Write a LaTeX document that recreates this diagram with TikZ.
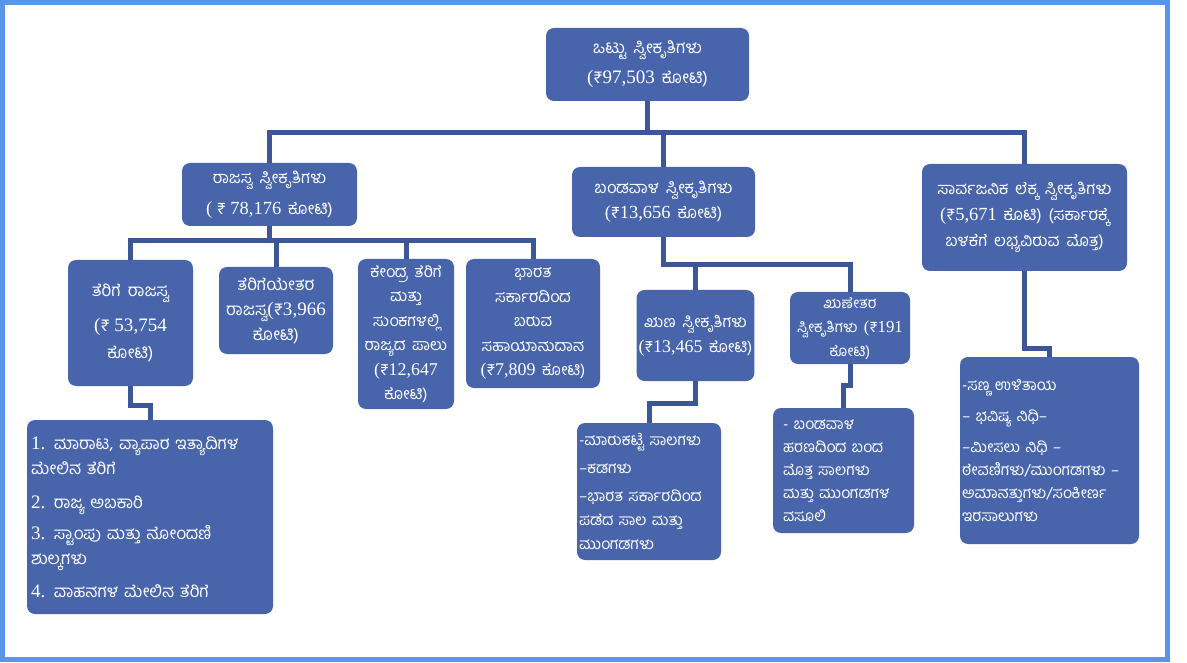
\documentclass[tikz,border=0pt]{standalone}
\usepackage{fontspec}
\setmainfont{Liberation Serif}[Scale=1.12]
\newfontfamily\kn[Script=Kannada,WordSpace=1.7]{Hind Mysuru}
\newcommand\nm[1]{{\rmfamily #1}}
\newcommand\rs{{\kn ₹}}
\definecolor{boxblue}{RGB}{72,101,172}
\definecolor{linkblue}{RGB}{60,86,150}
\definecolor{framblue}{RGB}{88,150,235}
\tikzset{
  bx/.style={fill=boxblue, rounded corners=8pt, text=white, inner sep=2pt, align=center, font=\kn\fontsize{15}{24}\selectfont},
  lnk/.style={draw=linkblue, line width=5pt}
}
\begin{document}
\begin{tikzpicture}[x=1pt,y=-1pt]
\useasboundingbox (0,0) rectangle (1187,663);
\fill[white] (0,0) rectangle (1187,663);
\draw[framblue, line width=5pt] (2.5,2.5) rectangle (1167.5,659.5);

% level 0
\node[bx, minimum width=203pt, minimum height=73pt, font=\kn\fontsize{17}{30}\selectfont] (top) at (647.5,64.5) {ಒಟ್ಟು ಸ್ವೀಕೃತಿಗಳು\\\nm{(}\rs\nm{97,503} ಕೋಟಿ)};
% level 1
\node[bx, minimum width=175pt, minimum height=63pt, font=\kn\fontsize{16.5}{31}\selectfont] (rev) at (269.5,194.5) {ರಾಜಸ್ವ ಸ್ವೀಕೃತಿಗಳು\\\nm{( }\rs\nm{ 78,176} ಕೋಟಿ)};
\node[bx, minimum width=183pt, minimum height=70pt, font=\kn\fontsize{16.5}{25}\selectfont] (cap) at (663.5,202) {ಬಂಡವಾಳ ಸ್ವೀಕೃತಿಗಳು\\\nm{(}\rs\nm{13,656} ಕೋಟಿ)};
\node[bx, minimum width=205pt, minimum height=107pt, font=\kn\fontsize{16.5}{26}\selectfont] (pub) at (1024.5,217.5) {ಸಾರ್ವಜನಿಕ ಲೆಕ್ಕ ಸ್ವೀಕೃತಿಗಳು\\\nm{(}\rs\nm{5,671} ಕೊಟಿ) (ಸರ್ಕಾರಕ್ಕೆ\\ಬಳಕೆಗೆ ಲಭ್ಯವಿರುವ ಮೊತ್ತ)};
% level 2
\node[bx, minimum width=125pt, minimum height=126pt, font=\kn\fontsize{17}{27}\selectfont] (tax) at (130.5,323) {ತೆರಿಗೆ ರಾಜಸ್ವ\\[8pt]\nm{(}\rs\nm{ 53,754}\\ಕೋಟಿ)};
\node[bx, minimum width=114pt, minimum height=87pt, font=\kn\fontsize{17}{25}\selectfont] (ntax) at (276,310.5) {ತೆರಿಗೆಯೇತರ\\ರಾಜಸ್ವ\nm{(}\rs\nm{3,966}\\ಕೋಟಿ)};
\node[bx, minimum width=96pt, minimum height=150pt, font=\kn\fontsize{16}{24.5}\selectfont] (cen) at (406,334) {ಕೇಂದ್ರ ತೆರಿಗೆ\\ಮತ್ತು\\ಸುಂಕಗಳಲ್ಲಿ\\ರಾಜ್ಯದ ಪಾಲು\\\nm{(}\rs\nm{12,647}\\ಕೋಟಿ)};
\node[bx, minimum width=134pt, minimum height=129pt, font=\kn\fontsize{16}{24.5}\selectfont] (goi) at (533,323.5) {ಭಾರತ\\ಸರ್ಕಾರದಿಂದ\\ಬರುವ\\ಸಹಾಯಾನುದಾನ\\\nm{(}\rs\nm{7,809} ಕೋಟಿ)};
\node[bx, minimum width=115pt, minimum height=91pt, font=\kn\fontsize{16}{25}\selectfont] (debt) at (695.5,335.5) {ಋಣ ಸ್ವೀಕೃತಿಗಳು\\\nm{(}\rs\nm{13,465} ಕೋಟಿ)};
\node[bx, minimum width=120pt, minimum height=72pt, inner sep=0pt, font=\kn\fontsize{15}{24}\selectfont] (ndebt) at (850,328) {ಋಣೇತರ\\ಸ್ವೀಕೃತಿಗಳು \nm{(}\rs\nm{191}\\ಕೋಟಿ)};
% level 3 lists
\node[bx, align=left, minimum width=246pt, minimum height=194pt, text width=238pt, font=\kn\fontsize{17}{25}\selectfont] (taxl) at (150,517) {\nm{1.} ಮಾರಾಟ, ವ್ಯಾಪಾರ ಇತ್ಯಾದಿಗಳ\\ಮೇಲಿನ ತೆರಿಗೆ\\[9pt]\nm{2.} ರಾಜ್ಯ ಅಬಕಾರಿ\\[6pt]\nm{3.} ಸ್ಟಾಂಪು ಮತ್ತು ನೋಂದಣಿ\\ಶುಲ್ಕಗಳು\\[8pt]\nm{4.} ವಾಹನಗಳ ಮೇಲಿನ ತೆರಿಗೆ};
\node[bx, align=left, minimum width=144pt, minimum height=137pt, text width=140pt, font=\kn\fontsize{15.5}{24}\selectfont] (debtl) at (649,491.5) {-ಮಾರುಕಟ್ಟೆ ಸಾಲಗಳು\\[4pt]–ಕಡಗಳು\\[4pt]–ಭಾರತ ಸರ್ಕಾರದಿಂದ\\ಪಡೆದ ಸಾಲ ಮತ್ತು\\ಮುಂಗಡಗಳು};
\node[bx, align=left, minimum width=141pt, minimum height=125pt, text width=121pt, font=\kn\fontsize{15.5}{23}\selectfont] (ndl) at (843.5,470.5) {- ಬಂಡವಾಳ\\ಹರಣದಿಂದ ಬಂದ\\ಮೊತ್ತ ಸಾಲಗಳು\\ಮತ್ತು ಮುಂಗಡಗಳ\\ವಸೂಲಿ};
\node[bx, align=left, minimum width=179pt, minimum height=187pt, text width=175pt, font=\kn\fontsize{15.5}{23}\selectfont] (publ) at (1049.5,450.5) {-ಸಣ್ಣ ಉಳಿತಾಯ\\[8pt]– ಭವಿಷ್ಯ ನಿಧಿ–\\[8pt]–ಮೀಸಲು ನಿಧಿ –\\ಠೇವಣಿಗಳು/ಮುಂಗಡಗಳು –\\ಅಮಾನತ್ತುಗಳು/ಸಂಕೀರ್ಣ\\ಇರಸಾಲುಗಳು};

% connectors
\coordinate (j0) at (647.5,133);
\draw[lnk] (top.south) -- (j0) -| (rev.north);
\draw[lnk] (j0) -| (cap.north);
\draw[lnk] (j0) -| (pub.north);
\coordinate (j1) at (269.5,241);
\draw[lnk] (rev.south) -- (j1) -| (tax.north);
\draw[lnk] (j1) -| (ntax.north);
\draw[lnk] (j1) -| (cen.north);
\draw[lnk] (j1) -| (goi.north);
\coordinate (j2) at (663.5,265);
\draw[lnk] (cap.south) -- (j2) -| (debt.north);
\draw[lnk] (j2) -| (ndebt.north);
\coordinate (j3) at (130.5,405);
\draw[lnk] (tax.south) -- (j3) -| (taxl.north);
\coordinate (j4) at (695.5,403);
\draw[lnk] (debt.south) -- (j4) -| (debtl.north);
\coordinate (j5) at (850,385);
\draw[lnk] (ndebt.south) -- (j5) -| (ndl.north);
\coordinate (j6) at (1024.5,348);
\draw[lnk] (pub.south) -- (j6) -| (publ.north);
\end{tikzpicture}
\end{document}
